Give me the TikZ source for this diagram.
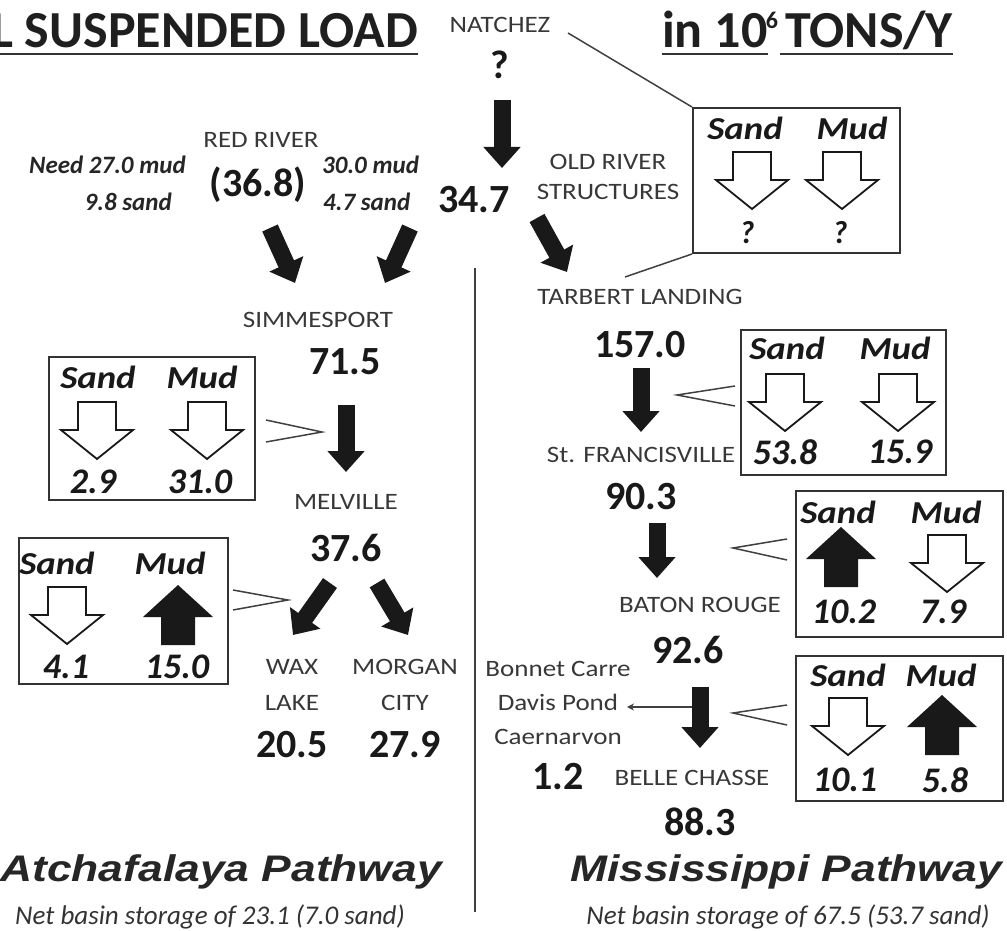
\documentclass[tikz,border=0pt]{standalone}
\usepackage{fontspec}
\setmainfont{Carlito}
\newfontfamily\widefont{Carlito}[FakeStretch=1.15]
\newfontfamily\pathfont{Liberation Sans}[FakeStretch=1.2]
\usetikzlibrary{arrows.meta}

\newcommand{\fs}[2]{\fontsize{#1}{#2}\selectfont}

\begin{document}
\begin{tikzpicture}[x=1pt,y=-1pt,
  every node/.style={inner sep=0pt},
  station/.style={font=\widefont\fs{23.5}{36}, text=black!78, align=center},
  load/.style={font=\bfseries\fs{40}{44}, text=black!90},
  note/.style={font=\bfseries\itshape\fs{25}{28}, text=black!85},
  kind/.style={font=\widefont\bfseries\itshape\fs{32}{34}, text=black!90},
  amount/.style={font=\bfseries\itshape\fs{36}{38}, text=black!90},
  heading/.style={font=\bfseries\fs{52}{54}, text=black!88},
  pathway/.style={font=\pathfont\bfseries\itshape\fs{37}{40}, text=black!85},
  storage/.style={font=\itshape\fs{27}{30}, text=black!80},
  budget/.style={draw=black!80, line width=2pt},
  flow/.style={line width=17pt, black!90, -{Triangle[length=21pt,width=36pt]}},
  lead/.style={line width=1.5pt, black!75},
  rule/.style={line width=2.5pt, black!80},
  sink/.pic={\draw[line width=1.8pt, draw=black!90, fill=white]
    (-19,-28) -- (19,-28) -- (19,0) -- (36,0) -- (0,29) -- (-36,0) -- (-19,0) -- cycle;},
  source/.pic={\fill[black!90]
    (-17,30) -- (17,30) -- (17,2) -- (35,2) -- (0,-30) -- (-35,2) -- (-17,2) -- cycle;}]
  \useasboundingbox (0,0) rectangle (1007,931);

  % headings
  \node[heading, anchor=base east] (title) at (418,48) {L SUSPENDED LOAD};
  \node[heading, anchor=base west] (unitA) at (662,48) {in 10};
  \node[heading, font=\bfseries\fs{24}{26}] (unitexp) at (772,20) {6};
  \node[heading, anchor=base west] (unitB) at (785,48) {TONS/Y};
  \draw[rule] ([yshift=-6pt]title.base west) -- ([yshift=-6pt]title.base east);
  \draw[rule] ([yshift=-6pt]unitA.base west) -- ([yshift=-6pt]unitA.base east);
  \draw[rule] ([yshift=-6pt,xshift=-5pt]unitB.base west) -- ([yshift=-6pt]unitB.base east);

  % upstream
  \node[station] (natchez) at (500,25) {NATCHEZ};
  \node[load] (natchezq) at (500,65) {?};
  \node[station] (redriver) at (261,140) {RED RIVER};
  \node[load] (redload) at (258,185) {(36.8)};
  \node[note, anchor=east] (need1) at (186,165) {Need 27.0 mud};
  \node[note, anchor=east] (need2) at (172,202) {9.8 sand};
  \node[note, anchor=west] (got1) at (322,165) {30.0 mud};
  \node[note, anchor=west] (got2) at (323,202) {4.7 sand};
  \node[load] (oldload) at (474,200) {34.7};
  \node[station, font=\widefont\fs{23.5}{30}] (oldriver) at (608,177) {OLD RIVER\\STRUCTURES};

  % Atchafalaya side
  \node[station] (simmesport) at (318,320) {SIMMESPORT};
  \node[load] (simload) at (345,362) {71.5};
  \node[station] (melville) at (346,502) {MELVILLE};
  \node[load] (melload) at (346,548) {37.6};
  \node[station] (waxlake) at (292,685) {WAX\\LAKE};
  \node[station] (morgan) at (405,685) {MORGAN\\CITY};
  \node[load] (waxload) at (292,745) {20.5};
  \node[load] (morload) at (405,745) {27.9};

  % Mississippi side
  \node[station] (tarbert) at (640,297) {TARBERT LANDING};
  \node[load] (tarload) at (640,345) {157.0};
  \node[station] (francis) at (641,455) {St. FRANCISVILLE};
  \node[load] (fraload) at (641,497) {90.3};
  \node[station] (baton) at (700,605) {BATON ROUGE};
  \node[load] (batload) at (688,650) {92.6};
  \node[station, font=\widefont\fs{23.5}{34}] (diversion) at (558,703) {Bonnet Carre\\Davis Pond\\Caernarvon};
  \node[load] (divload) at (558,777) {1.2};
  \node[station] (belle) at (692,778) {BELLE CHASSE};
  \node[load] (belload) at (700,822) {88.3};

  % budget boxes
  \node[budget, minimum width=207, minimum height=145] (boxOR) at (796.5,180.5) {};
  \node[kind] (orsand) at (745,128) {Sand};
  \node[kind] (ormud) at (852,128) {Mud};
  \pic at (752,180) {sink};
  \pic at (842,180) {sink};
  \node[amount, font=\bfseries\itshape\fs{32}{34}] (orsandv) at (747,233) {?};
  \node[amount, font=\bfseries\itshape\fs{32}{34}] (ormudv) at (840,233) {?};

  \node[budget, minimum width=206, minimum height=143] (boxL1) at (152,428.5) {};
  \node[kind] (l1sand) at (98,377) {Sand};
  \node[kind] (l1mud) at (202,377) {Mud};
  \pic at (97,430) {sink};
  \pic at (207,430) {sink};
  \node[amount] (l1sandv) at (93,482) {2.9};
  \node[amount] (l1mudv) at (200,482) {31.0};

  \node[budget, minimum width=209, minimum height=146] (boxL2) at (123.5,611) {};
  \node[kind] (l2sand) at (57,563) {Sand};
  \node[kind] (l2mud) at (170,563) {Mud};
  \pic at (67,615) {sink};
  \pic at (178,615) {source};
  \node[amount] (l2sandv) at (66,667) {4.1};
  \node[amount] (l2mudv) at (177,667) {15.0};

  \node[budget, minimum width=205, minimum height=145] (boxR1) at (843.5,402.5) {};
  \node[kind] (r1sand) at (787,348) {Sand};
  \node[kind] (r1mud) at (895,348) {Mud};
  \pic at (785,402) {sink};
  \pic at (898,402) {sink};
  \node[amount] (r1sandv) at (785,452) {53.8};
  \node[amount] (r1mudv) at (900,452) {15.9};

  \node[budget, minimum width=207, minimum height=146] (boxR2) at (899.5,564) {};
  \node[kind] (r2sand) at (838,512) {Sand};
  \node[kind] (r2mud) at (946,512) {Mud};
  \pic at (841,557) {source};
  \pic at (947,563) {sink};
  \node[amount] (r2sandv) at (844,612) {10.2};
  \node[amount] (r2mudv) at (943,612) {7.9};

  \node[budget, minimum width=207, minimum height=145] (boxR3) at (899.5,728.5) {};
  \node[kind] (r3sand) at (848,675) {Sand};
  \node[kind] (r3mud) at (941,675) {Mud};
  \pic at (848,726) {sink};
  \pic at (942,725) {source};
  \node[amount] (r3sandv) at (845,780) {10.1};
  \node[amount] (r3mudv) at (945,780) {5.8};

  % pathway captions
  \node[pathway, anchor=west] (atchpath) at (0,872) {Atchafalaya Pathway};
  \node[storage] (atchnet) at (210,917) {Net basin storage of 23.1 (7.0 sand)};
  \node[pathway] (misspath) at (786,872) {Mississippi Pathway};
  \node[storage] (missnet) at (788,917) {Net basin storage of 67.5 (53.7 sand)};

  % flows
  \coordinate (nat-a) at (502,100); \coordinate (nat-b) at (502,168);
  \coordinate (rr-a) at (270,228);  \coordinate (rr-b) at (295,283);
  \coordinate (or-a) at (410,228);  \coordinate (or-b) at (385,283);
  \coordinate (tb-a) at (537,218);  \coordinate (tb-b) at (567,272);
  \coordinate (sm-a) at (346,405);  \coordinate (sm-b) at (346,472);
  \coordinate (wl-a) at (330,583);  \coordinate (wl-b) at (293,635);
  \coordinate (mc-a) at (377,583);  \coordinate (mc-b) at (408,635);
  \coordinate (sf-a) at (641,368);  \coordinate (sf-b) at (641,432);
  \coordinate (br-a) at (657,523);  \coordinate (br-b) at (657,578);
  \coordinate (bc-a) at (700,687);  \coordinate (bc-b) at (700,748);
  \coordinate (dv-a) at (692,707);  \coordinate (dv-b) at (627,707);
  \foreach \a/\b in {nat-a/nat-b, rr-a/rr-b, or-a/or-b, tb-a/tb-b, sm-a/sm-b,
    wl-a/wl-b, mc-a/mc-b, sf-a/sf-b, br-a/br-b, bc-a/bc-b}
    \draw[flow] (\a) -- (\b);
  \draw[lead, -{Stealth[length=7pt,width=7pt]}] (dv-a) -- (dv-b);

  % leaders and chevrons
  \coordinate (or-top) at (568,33); \coordinate (or-bot) at (625,277);
  \draw[lead] (or-top) -- (boxOR.north west);
  \draw[lead] (or-bot) -- (boxOR.south west);
  \draw[lead] (266,420) -- (322,432) -- (266,442);
  \draw[lead] (233,590) -- (288,600) -- (233,610);
  \draw[lead] (735,386) -- (677,395) -- (735,406);
  \draw[lead] (787,539) -- (733,548) -- (787,560);
  \draw[lead] (787,705) -- (733,713) -- (787,725);

  % divider
  \coordinate (div-top) at (475,268); \coordinate (div-bot) at (475,912);
  \draw[lead] (div-top) -- (div-bot);
\end{tikzpicture}
\end{document}
